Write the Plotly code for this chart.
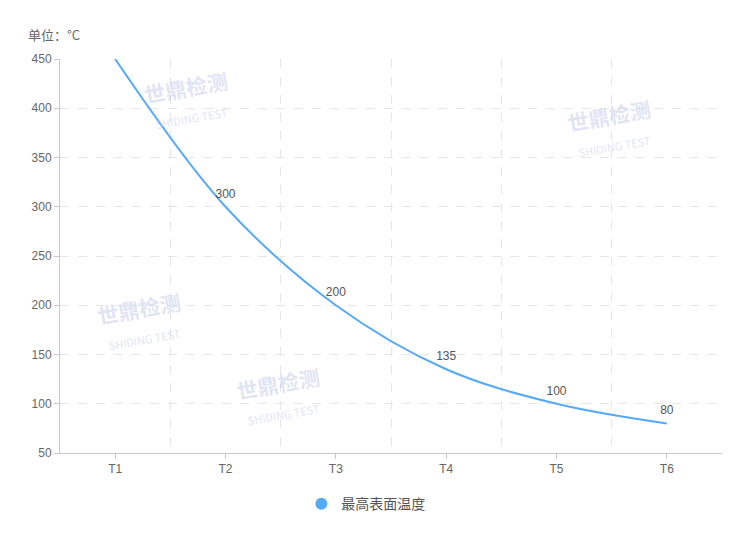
import plotly.graph_objects as go

categories = ["T1", "T2", "T3", "T4", "T5", "T6"]
values = [450, 300, 200, 135, 100, 80]
series_name = "最高表面温度"
unit_label = "单位：°C"
y_ticks = [50, 100, 150, 200, 250, 300, 350, 400, 450]

idx = list(range(len(categories)))
labels = [""] + [str(v) for v in values[1:]]

FONT = "Liberation Sans, Arial, Noto Sans CJK SC, sans-serif"
LINE = "#55aaf8"

fig = go.Figure()
fig.add_trace(go.Scatter(
    x=idx, y=values, mode="lines+markers+text", name=series_name, showlegend=False,
    text=labels, textposition="top center",
    textfont=dict(size=12, color="#555"),
    marker=dict(size=8, opacity=0),
    line=dict(color=LINE, width=2, shape="spline", smoothing=1.0),
    cliponaxis=False, hoverinfo="x+y",
))
fig.add_trace(go.Scatter(
    x=[None], y=[None], mode="markers", name=series_name,
    marker=dict(color=LINE, size=12, symbol="circle"),
))
# boundary gridlines via overlaying axis
fig.add_trace(go.Scatter(x=[None], y=[None], xaxis="x2", showlegend=False))

grid_color = "#e6e6e6"
fig.update_layout(
    width=750, height=543,
    margin=dict(l=52, r=36, t=51, b=98),
    plot_bgcolor="white", paper_bgcolor="white",
    font=dict(family=FONT, size=12, color="#666"),
    xaxis=dict(
        range=[-0.5, 5.5], tickvals=idx, ticktext=categories,
        showgrid=False, zeroline=False,
        showline=True, linecolor="#c8c8c8", linewidth=1,
        ticks="outside", ticklen=5, tickcolor="#c8c8c8",
        tickfont=dict(size=12, color="#666"),
    ),
    xaxis2=dict(
        range=[-0.5, 5.5], overlaying="x", tickvals=[0.5, 1.5, 2.5, 3.5, 4.5],
        showticklabels=False, showgrid=True, gridcolor=grid_color,
        griddash="dash", gridwidth=1, zeroline=False, showline=False,
    ),
    yaxis=dict(
        range=[50, 450], tickvals=y_ticks,
        showgrid=True, gridcolor=grid_color, griddash="dash", gridwidth=1,
        zeroline=False, showline=True, linecolor="#c8c8c8", linewidth=1,
        ticks="outside", ticklen=5, tickcolor="#c8c8c8",
        tickfont=dict(size=12, color="#666"),
    ),
    showlegend=True,
    legend=dict(
        orientation="h", x=0.462, xanchor="center", y=-0.089, yanchor="top",
        font=dict(size=14, color="#555", family="Noto Sans CJK SC, sans-serif"),
        itemsizing="constant",
    ),
)

fig.add_annotation(
    text=unit_label, xref="paper", yref="paper", x=-0.052, y=1.061,
    xanchor="left", yanchor="middle", showarrow=False,
    font=dict(size=13, color="#666", family="Noto Sans CJK SC, sans-serif"),
)

# faint watermarks
wm = [(0.12, 0.99), (0.76, 0.92), (0.05, 0.43), (0.26, 0.24)]
for (px, py) in wm:
    fig.add_annotation(
        text="<b>世鼎检测</b><br><span style='font-size:11px'>SHIDING TEST</span>",
        xref="paper", yref="paper", x=px, y=py, showarrow=False,
        textangle=-10, font=dict(size=21, color="rgba(200,205,235,0.55)",
                                 family="Noto Sans CJK SC, sans-serif"),
        xanchor="left", yanchor="top", align="center",
    )

fig.write_html("out.html")
